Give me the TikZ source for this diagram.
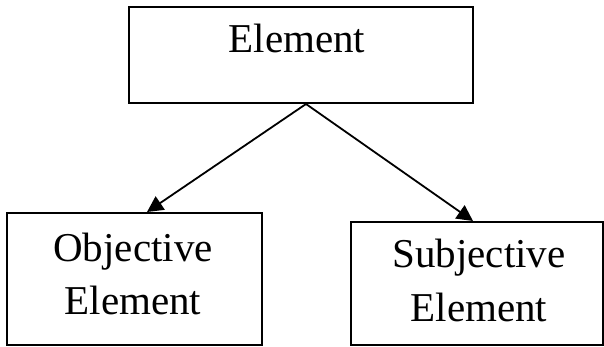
\documentclass[tikz,border=0pt]{standalone}
\usepackage{fontspec}
\setmainfont{Liberation Serif}
\usetikzlibrary{arrows.meta}
\begin{document}
\begin{tikzpicture}[x=1pt,y=1pt,
  box/.style={draw, line width=2pt, inner sep=0pt},
  lbl/.style={font=\fontsize{41}{53}\selectfont, inner sep=0pt, anchor=base},
  conn/.style={line width=1.8pt, -{Triangle[width=16pt,length=16pt]}}]
\useasboundingbox (0,0) rectangle (604,347);
\fill[white] (0,0) rectangle (604,347);
\node[box, minimum width=344pt, minimum height=96pt] (top) at (301,292) {};
\node[lbl] (topt) at (297,294) {Element};
\node[box, minimum width=255pt, minimum height=132pt] (left) at (134.5,68) {};
\node[lbl] (l1) at (133,85) {Objective};
\node[lbl] (l2) at (133,32) {Element};
\node[box, minimum width=252pt, minimum height=123pt] (right) at (477,63.5) {};
\node[lbl] (r1) at (479,79) {Subjective};
\node[lbl] (r2) at (479,25) {Element};
\coordinate (apex) at ([xshift=5pt]top.south);
\draw[conn] (apex) -- ([xshift=12.5pt]left.north);
\draw[conn] (apex) -- ([xshift=-4pt]right.north);
\end{tikzpicture}
\end{document}
